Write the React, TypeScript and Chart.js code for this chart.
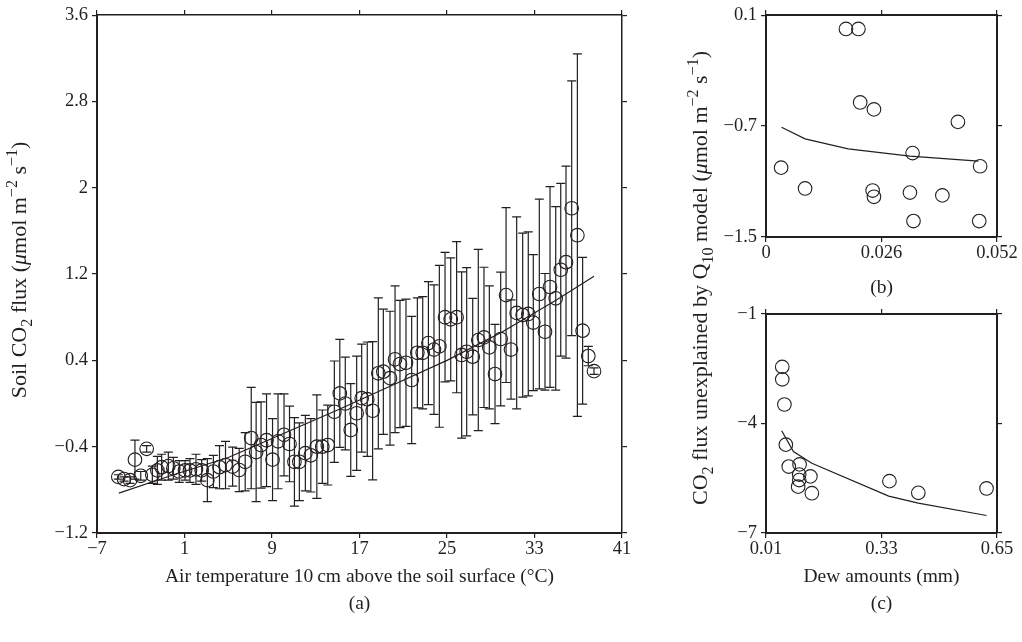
import React, { useEffect, useRef } from "react";
import { Chart, registerables } from "chart.js";

Chart.register(...registerables);

const FONT = "'Liberation Serif', 'Times New Roman', serif";
const INK = "#231f20";
const TICK_SIZE = 18.5;
const TITLE_SIZE = 19.5;
const VTITLE_SIZE = 22;

// ---------- Panel (a): soil CO2 flux vs air temperature ----------
const tempX = [
  -5.05, -4.53, -3.98, -3.53, -3.0, -2.46, -1.94, -1.48, -1.09, -0.48,
  -0.02, 0.52, 1.05, 1.5, 2.05, 2.57, 3.09, 3.64, 4.2, 4.75,
  5.4, 6.0, 6.55, 7.1, 7.55, 8.0, 8.5, 9.05, 9.55, 10.1,
  10.6, 11.05, 11.5, 12.05, 12.55, 13.1, 13.6, 14.1, 14.7, 15.2,
  15.7, 16.2, 16.74, 17.2, 17.71, 18.2, 18.72, 19.18, 19.79, 20.25,
  20.7, 21.25, 21.77, 22.29, 22.78, 23.3, 23.81, 24.3, 24.82, 25.34,
  25.88, 26.34, 26.8, 27.35, 27.86, 28.38, 28.87, 29.39, 29.91, 30.4,
  30.85, 31.37, 31.92, 32.43, 32.89, 33.44, 33.96, 34.42, 34.94, 35.4,
  35.88, 36.4, 36.92, 37.4, 37.92, 38.44,
];
const fluxMean = [
  -0.68, -0.7, -0.71, -0.52, -0.67, -0.42, -0.66, -0.62, -0.59, -0.58,
  -0.6, -0.63, -0.62, -0.62, -0.61, -0.62, -0.71, -0.63, -0.59, -0.57,
  -0.585, -0.616, -0.54, -0.32, -0.45, -0.385, -0.34, -0.52, -0.35, -0.29,
  -0.375, -0.54, -0.54, -0.46, -0.48, -0.4, -0.4, -0.385, -0.076, 0.094,
  0.0, -0.245, -0.09, 0.05, 0.04, -0.067, 0.28, 0.295, 0.235, 0.41,
  0.366, 0.378, 0.218, 0.47, 0.47, 0.56, 0.5, 0.53, 0.8, 0.78,
  0.8, 0.45, 0.48, 0.434, 0.588, 0.613, 0.52, 0.273, 0.598, 1.005,
  0.5, 0.84, 0.82, 0.83, 0.75, 1.015, 0.665, 1.08, 0.975, 1.24,
  1.31, 1.81, 1.56, 0.675, 0.44, 0.3,
];
const fluxErr = [
  0.02, 0.02, 0.03, 0.18, 0.04, 0.03, 0.08, 0.13, 0.12, 0.13,
  0.1, 0.1, 0.09, 0.11, 0.14, 0.1, 0.2, 0.15, 0.2, 0.22,
  0.18, 0.2, 0.27, 0.47, 0.46, 0.4, 0.43, 0.38, 0.44, 0.38,
  0.35, 0.41, 0.36, 0.35, 0.34, 0.48, 0.34, 0.37, 0.47, 0.5,
  0.43, 0.43, 0.53, 0.5, 0.53, 0.64, 0.7, 0.58, 0.62, 0.68,
  0.59, 0.59, 0.59, 0.51, 0.52, 0.57, 0.6, 0.75, 0.6, 0.57,
  0.7, 0.77, 0.78, 0.54, 0.84, 0.65, 0.57, 0.46, 0.62, 0.81,
  0.46, 0.89, 0.76, 0.76, 0.63, 0.88, 0.54, 0.93, 0.85, 0.8,
  0.89, 1.18, 1.68, 0.68, 0.09, 0.03,
];
const fitTempX = [-5, 0, 5, 10, 15, 20, 25, 30, 35, 38.44];
const fitFlux = [-0.83, -0.66, -0.5, -0.28, -0.06, 0.17, 0.4, 0.66, 0.96, 1.18];
const aXTicks = [-7, 1, 9, 17, 25, 33, 41];
const aYTicks = [-1.2, -0.4, 0.4, 1.2, 2, 2.8, 3.6];

// ---------- Panel (b) ----------
const bX = [0.018, 0.0208, 0.0212, 0.0243, 0.0432, 0.033, 0.0034, 0.0482, 0.0088, 0.024, 0.0243, 0.0324, 0.0397, 0.0332, 0.048];
const bY = [0.0, 0.0, -0.53, -0.58, -0.67, -0.895, -1.0, -0.99, -1.15, -1.165, -1.21, -1.18, -1.2, -1.385, -1.385];
const bFitX = [0.0035, 0.0088, 0.0185, 0.0324, 0.0478];
const bFitY = [-0.709, -0.792, -0.864, -0.917, -0.953];
const bXTicks = [0, 0.026, 0.052];
const bYTicks = [-1.5, -0.7, 0.1];

// ---------- Panel (c) ----------
const dewAmounts = [0.055, 0.055, 0.061, 0.065, 0.073, 0.103, 0.102, 0.133, 0.102, 0.099, 0.137, 0.352, 0.432, 0.621];
const cY = [-2.45, -2.79, -3.48, -4.58, -5.18, -5.12, -5.4, -5.45, -5.55, -5.73, -5.91, -5.58, -5.9, -5.78];
const cFitX = [0.0535, 0.086, 0.137, 0.35, 0.432, 0.621];
const cFitY = [-4.2, -4.77, -5.09, -5.99, -6.18, -6.52];
const cXTicks = [0.01, 0.33, 0.65];
const cYTicks = [-7, -4, -1];

const aXTitle = ["Air temperature 10\u2009cm above the soil surface (\u00B0C)", "(a)"];
type Seg = { t: string; sub?: boolean; sup?: boolean; it?: boolean };
const aYTitle: Seg[] = [
  { t: "Soil CO" }, { t: "2", sub: true }, { t: " flux (" }, { t: "\u03BC", it: true },
  { t: "mol m" }, { t: "\u22122", sup: true }, { t: " s" }, { t: "\u22121", sup: true }, { t: ")" },
];
const sharedYTitle: Seg[] = [
  { t: "CO" }, { t: "2", sub: true }, { t: " flux unexplained by Q" }, { t: "10", sub: true },
  { t: " model (" }, { t: "\u03BC", it: true }, { t: "mol m" }, { t: "\u22122", sup: true },
  { t: " s" }, { t: "\u22121", sup: true }, { t: ")" },
];

function fmt(v: number) {
  return String(Math.round(v * 1000) / 1000).replace("-", "\u2212");
}
function ticker(vals: number[]) {
  return (s: any) => {
    s.ticks = vals.map((v) => ({ value: v }));
  };
}
function pts(xs: number[], ys: number[]) {
  return xs.map((x, i) => ({ x, y: ys[i] }));
}

function drawVerticalRich(ctx: CanvasRenderingContext2D, segs: Seg[], cx: number, cy: number, size: number) {
  const small = Math.round(size * 0.72);
  const fontOf = (s: Seg) => `${s.it ? "italic " : ""}${s.sub || s.sup ? small : size}px ${FONT}`;
  const widths = segs.map((s) => {
    ctx.font = fontOf(s);
    return ctx.measureText(s.t).width;
  });
  const total = widths.reduce((a, b) => a + b, 0);
  ctx.save();
  ctx.translate(cx, cy);
  ctx.rotate(-Math.PI / 2);
  ctx.fillStyle = INK;
  ctx.textAlign = "left";
  ctx.textBaseline = "alphabetic";
  let x = -total / 2;
  const base = size * 0.33;
  segs.forEach((s, i) => {
    ctx.font = fontOf(s);
    const dy = s.sub ? size * 0.28 : s.sup ? -size * 0.42 : 0;
    ctx.fillText(s.t, x, base + dy);
    x += widths[i];
  });
  ctx.restore();
}

type Spec = {
  xMin: number; xMax: number; xTicks: number[];
  yMin: number; yMax: number; yTicks: number[];
  xTitle: string[]; xTitlePad: number;
  leftW: number; rightW: number; topH: number; bottomH: number; thin: number;
};

function makeScales(sp: Spec) {
  const tickFont = { family: FONT, size: TICK_SIZE };
  const grid = { display: true, drawOnChartArea: false, drawTicks: true, tickLength: 5, lineWidth: 1.2, color: INK, tickColor: INK };
  const common = { type: "linear" as const };
  return {
    x: {
      ...common, position: "bottom", min: sp.xMin, max: sp.xMax,
      afterBuildTicks: ticker(sp.xTicks),
      ticks: { callback: (v: number) => fmt(v), font: tickFont, color: INK, padding: 0, maxRotation: 0, autoSkip: false },
      grid, border: { display: true, color: INK, width: 2 },
      title: { display: true, text: sp.xTitle, font: { family: FONT, size: TITLE_SIZE, lineHeight: 27 / TITLE_SIZE }, color: INK, padding: { top: 0, bottom: sp.xTitlePad } },
      afterFit: (s: any) => { s.height = sp.bottomH; },
    },
    xTop: {
      ...common, position: "top", min: sp.xMin, max: sp.xMax,
      afterBuildTicks: ticker(sp.xTicks),
      ticks: { display: false },
      grid, border: { display: true, color: INK, width: sp.thin },
      afterFit: (s: any) => { s.height = sp.topH; },
    },
    y: {
      ...common, position: "left", min: sp.yMin, max: sp.yMax,
      afterBuildTicks: ticker(sp.yTicks),
      ticks: { callback: (v: number) => fmt(v), font: tickFont, color: INK, padding: 4, autoSkip: false },
      grid, border: { display: true, color: INK, width: 2 },
      title: { display: false },
      afterFit: (s: any) => { s.width = sp.leftW; },
    },
    yRight: {
      ...common, position: "right", min: sp.yMin, max: sp.yMax,
      afterBuildTicks: ticker(sp.yTicks),
      ticks: { display: false },
      grid, border: { display: true, color: INK, width: sp.thin },
      afterFit: (s: any) => { s.width = sp.rightW; },
    },
  };
}

const errorBars = {
  id: "errorBars",
  afterDatasetsDraw(chart: any) {
    const { ctx } = chart;
    const xs = chart.scales.x;
    const ys = chart.scales.y;
    chart.data.datasets.forEach((ds: any) => {
      if (!ds.errors) return;
      ctx.save();
      ctx.strokeStyle = INK;
      ctx.lineWidth = 1.2;
      ds.data.forEach((p: any, i: number) => {
        const e = ds.errors[i];
        const px = xs.getPixelForValue(p.x);
        const pt = ys.getPixelForValue(p.y + e);
        const pb = ys.getPixelForValue(p.y - e);
        ctx.beginPath();
        ctx.moveTo(px, pt);
        ctx.lineTo(px, pb);
        ctx.moveTo(px - 4.5, pt);
        ctx.lineTo(px + 4.5, pt);
        ctx.moveTo(px - 4.5, pb);
        ctx.lineTo(px + 4.5, pb);
        ctx.stroke();
      });
      ctx.restore();
    });
  },
};

const titleA = {
  id: "titleA",
  afterDraw(chart: any) {
    drawVerticalRich(chart.ctx, aYTitle, 19, 270, VTITLE_SIZE);
  },
};

const sharedTitle = {
  id: "sharedTitle",
  afterDraw(chart: any) {
    drawVerticalRich(chart.ctx, sharedYTitle, chart.chartArea.left - 66, 278, VTITLE_SIZE);
  },
};

function pointSet(data: any[], extra: any = {}) {
  return {
    data, showLine: false, clip: false,
    pointRadius: 6.8, pointHoverRadius: 6.8, pointBorderWidth: 1.1,
    pointBorderColor: INK, pointBackgroundColor: "rgba(0,0,0,0)",
    ...extra,
  };
}
function fitSet(data: any[]) {
  return { data, showLine: true, pointRadius: 0, borderColor: INK, borderWidth: 1.2, fill: false, clip: false };
}

function baseOptions(scales: any, padTop = 0) {
  return {
    responsive: false, animation: false, devicePixelRatio: 1, events: [],
    layout: { padding: { top: padTop, left: 0, right: 0, bottom: 0 } },
    plugins: { legend: { display: false }, tooltip: { enabled: false } },
    scales,
  };
}

export default function App() {
  const refA = useRef<HTMLCanvasElement>(null);
  const refB = useRef<HTMLCanvasElement>(null);
  const refC = useRef<HTMLCanvasElement>(null);

  useEffect(() => {
    Chart.defaults.font.family = FONT;
    const a = new Chart(refA.current as HTMLCanvasElement, {
      type: "scatter",
      data: {
        datasets: [
          pointSet(pts(tempX, fluxMean), { errors: fluxErr }),
          fitSet(pts(fitTempX, fitFlux)),
        ] as any,
      },
      options: baseOptions(makeScales({
        xMin: -7, xMax: 41, xTicks: aXTicks, yMin: -1.2, yMax: 3.6, yTicks: aYTicks,
        xTitle: aXTitle, xTitlePad: 24.5,
        leftW: 97, rightW: 18, topH: 15, bottomH: 109, thin: 1.5,
      })) as any,
      plugins: [errorBars, titleA],
    });
    const b = new Chart(refB.current as HTMLCanvasElement, {
      type: "scatter",
      data: { datasets: [pointSet(pts(bX, bY)), fitSet(pts(bFitX, bFitY))] as any },
      options: baseOptions(makeScales({
        xMin: 0, xMax: 0.052, xTicks: bXTicks, yMin: -1.5, yMax: 0.1, yTicks: bYTicks,
        xTitle: ["(b)"], xTitlePad: 8.5,
        leftW: 126, rightW: 25, topH: 14, bottomH: 73, thin: 2,
      })) as any,
    });
    const c = new Chart(refC.current as HTMLCanvasElement, {
      type: "scatter",
      data: { datasets: [pointSet(pts(dewAmounts, cY)), fitSet(pts(cFitX, cFitY))] as any },
      options: baseOptions(makeScales({
        xMin: 0.01, xMax: 0.65, xTicks: cXTicks, yMin: -7, yMax: -1, yTicks: cYTicks,
        xTitle: ["Dew amounts (mm)", "(c)"], xTitlePad: 24.5,
        leftW: 126, rightW: 25, topH: 15, bottomH: 109, thin: 2,
      }), 299) as any,
      plugins: [sharedTitle],
    });
    return () => {
      a.destroy();
      b.destroy();
      c.destroy();
    };
  }, []);

  return (
    <div style={{ position: "absolute", left: 0, top: 0, width: 1022, height: 642, background: "#fff", overflow: "hidden" }}>
      <canvas ref={refA} width={640} height={642} style={{ position: "absolute", left: 0, top: 0 }} />
      <canvas ref={refB} width={382} height={310} style={{ position: "absolute", left: 640, top: 0 }} />
      <canvas ref={refC} width={382} height={642} style={{ position: "absolute", left: 640, top: 0 }} />
    </div>
  );
}
